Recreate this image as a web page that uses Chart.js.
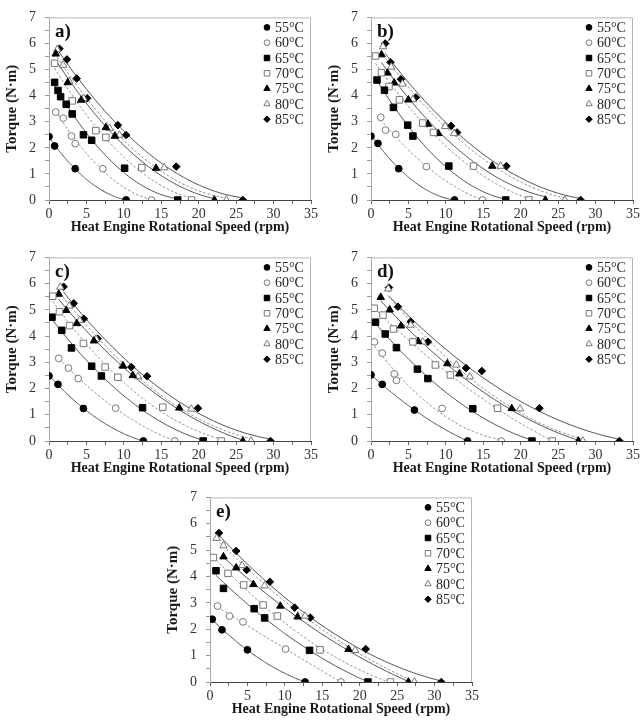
<!DOCTYPE html>
<html>
<head>
<meta charset="utf-8">
<script src="https://cdn.jsdelivr.net/npm/chart.js@4.4.1/dist/chart.umd.min.js"></script>
<style>
  body { margin: 0; background: #fff; width: 642px; height: 727px; position: relative; overflow: hidden; }
  canvas { position: absolute; }
</style>
</head>
<body>
<canvas id="pa" width="320" height="240" style="left:0;top:0"></canvas>
<canvas id="pb" width="320" height="240" style="left:322px;top:0"></canvas>
<canvas id="pc" width="320" height="240" style="left:0;top:240px"></canvas>
<canvas id="pd" width="320" height="240" style="left:322px;top:240px"></canvas>
<canvas id="pe" width="320" height="247" style="left:161px;top:480px"></canvas>
<script>
const temps = ['55°C', '60°C', '65°C', '70°C', '75°C', '80°C', '85°C'];
const xTicks = [0, 5, 10, 15, 20, 25, 30, 35];
const yTicks = [0, 1, 2, 3, 4, 5, 6, 7];

// speed (rpm) and torque (N·m) per temperature, one row per series
const speedA = [
  [0, 0.75, 3.5, 10.3],
  [0.9, 1.9, 3.0, 3.5, 7.2, 13.7],
  [0.75, 1.2, 1.55, 2.3, 3.1, 4.6, 5.7, 10.1, 17.2],
  [0.75, 3.1, 6.25, 7.6, 12.4, 19.05],
  [0.9, 2.5, 4.3, 7.6, 8.8, 14.3, 22.1],
  [1.1, 1.9, 2.7, 4.6, 8.1, 9.4, 15.4, 23.7],
  [1.4, 2.4, 3.7, 5.1, 9.2, 10.3, 17.0, 25.9]
];
const torqueA = [
  [2.43, 2.07, 1.2, 0],
  [3.37, 3.14, 2.45, 2.16, 1.2, 0],
  [4.51, 4.2, 3.96, 3.67, 3.3, 2.5, 2.29, 1.22, 0],
  [5.24, 3.8, 2.66, 2.4, 1.24, 0],
  [5.6, 4.5, 3.83, 2.78, 2.45, 1.22, 0],
  [5.77, 5.17, 4.55, 3.9, 2.75, 2.49, 1.24, 0],
  [5.8, 5.39, 4.66, 3.9, 2.87, 2.49, 1.28, 0]
];

const speedB = [
  [0, 0.93, 3.7, 11.15],
  [1.3, 1.95, 3.3, 7.4, 14.9],
  [0.8, 1.8, 3.0, 4.9, 5.6, 10.4, 18.0],
  [0.6, 1.4, 2.4, 3.8, 6.9, 8.35, 13.7, 21.1],
  [1.4, 2.2, 3.1, 5.0, 7.6, 9.0, 16.2, 23.3],
  [1.6, 2.7, 4.2, 5.6, 9.9, 11.1, 17.3, 25.9],
  [1.9, 2.6, 4.0, 6.0, 10.7, 11.5, 18.1, 28.0]
];
const torqueB = [
  [2.45, 2.17, 1.2, 0],
  [3.17, 2.68, 2.52, 1.28, 0],
  [4.6, 4.21, 3.55, 2.87, 2.45, 1.3, 0],
  [5.52, 4.88, 4.35, 3.84, 2.95, 2.59, 1.3, 0],
  [5.57, 4.87, 4.49, 3.84, 2.91, 2.55, 1.3, 0],
  [5.88, 5.1, 4.45, 3.85, 2.82, 2.55, 1.3, 0],
  [6.0, 5.28, 4.63, 3.93, 2.84, 2.59, 1.3, 0]
];

const speedC = [
  [0, 1.2, 4.6, 12.6],
  [1.3, 2.6, 3.9, 8.9, 16.8],
  [0.4, 1.7, 3.0, 5.7, 7.0, 12.5, 20.6],
  [0.5, 1.4, 2.75, 4.6, 7.5, 9.2, 15.2, 23.0],
  [1.3, 2.3, 3.7, 6.0, 9.9, 11.2, 17.4, 25.9],
  [1.5, 2.7, 4.1, 6.3, 9.8, 11.9, 19.0, 27.0],
  [1.95, 3.3, 4.65, 6.5, 11.0, 13.1, 19.9, 29.6]
];
const torqueC = [
  [2.48, 2.16, 1.24, 0],
  [3.15, 2.78, 2.38, 1.25, 0],
  [4.72, 4.22, 3.55, 2.85, 2.48, 1.27, 0],
  [5.52, 4.93, 4.4, 3.72, 2.82, 2.43, 1.29, 0],
  [5.6, 4.98, 4.48, 3.82, 2.86, 2.5, 1.26, 0],
  [5.87, 5.15, 4.6, 3.88, 2.88, 2.46, 1.22, 0],
  [5.88, 5.25, 4.66, 3.9, 2.82, 2.47, 1.25, 0]
];

const speedD = [
  [0, 1.5, 5.8, 12.9],
  [0.45, 1.5, 3.1, 3.4, 9.5, 17.4],
  [0.6, 1.9, 3.4, 6.2, 7.6, 13.6, 21.5],
  [0.45, 1.6, 3.0, 5.6, 8.6, 10.6, 16.9, 24.2],
  [1.3, 2.5, 4.0, 6.3, 10.2, 11.8, 18.8, 27.7],
  [2.3, 5.3, 6.9, 11.4, 13.2, 19.9, 28.3],
  [2.4, 3.6, 5.3, 7.6, 12.7, 14.8, 22.5, 33.2]
];
const torqueD = [
  [2.52, 2.16, 1.18, 0],
  [3.78, 3.35, 2.56, 2.31, 1.24, 0],
  [4.53, 4.08, 3.56, 2.74, 2.38, 1.23, 0],
  [5.06, 4.8, 4.27, 3.78, 2.9, 2.52, 1.25, 0],
  [5.48, 5.0, 4.39, 3.8, 2.95, 2.56, 1.24, 0],
  [5.8, 4.42, 3.78, 2.9, 2.45, 1.23, 0],
  [5.85, 5.12, 4.55, 3.78, 2.78, 2.67, 1.25, 0]
];

const speedE = [
  [0.3, 1.6, 5.0, 12.7],
  [1.0, 2.6, 4.4, 10.1, 17.5],
  [0.8, 1.8, 5.9, 7.3, 13.3, 21.1],
  [0.45, 2.4, 4.5, 7.1, 9.0, 14.7, 24.1],
  [1.8, 3.5, 5.8, 9.4, 11.7, 18.5, 26.5],
  [0.9, 1.8, 4.3, 7.3, 12.7, 19.4, 27.3],
  [1.2, 3.5, 4.9, 8.0, 11.3, 13.4, 20.8, 30.9]
];
const torqueE = [
  [2.38, 1.98, 1.22, 0],
  [2.88, 2.5, 2.28, 1.25, 0],
  [4.22, 3.55, 2.78, 2.43, 1.2, 0],
  [4.72, 4.12, 3.68, 2.92, 2.5, 1.22, 0],
  [4.75, 4.33, 3.7, 2.88, 2.47, 1.24, 0],
  [5.45, 5.17, 4.42, 3.65, 2.5, 1.2, 0],
  [5.65, 4.97, 4.25, 3.8, 2.82, 2.44, 1.25, 0]
];

// marker / line look per series
const shapes = ['circle', 'circle', 'rect', 'rect', 'triangle', 'triangle', 'rectRot'];
const filled = [true, false, true, false, true, false, true];
const radii = [3.4, 3.4, 4.6, 4.6, 4.3, 4.3, 3.8];
const SERIF = "'Liberation Serif', 'DejaVu Serif', serif";

// 2nd order polynomial trendline (least squares), like the spreadsheet fit
function quadFit(xs, ys) {
  let s = [0, 0, 0, 0, 0], t = [0, 0, 0];
  xs.forEach((x, i) => {
    let p = 1;
    for (let k = 0; k < 5; k++) { s[k] += p; if (k < 3) t[k] += p * ys[i]; p *= x; }
  });
  const M = [[s[0], s[1], s[2]], [s[1], s[2], s[3]], [s[2], s[3], s[4]]];
  const det = m => m[0][0] * (m[1][1] * m[2][2] - m[1][2] * m[2][1])
    - m[0][1] * (m[1][0] * m[2][2] - m[1][2] * m[2][0])
    + m[0][2] * (m[1][0] * m[2][1] - m[1][1] * m[2][0]);
  const D = det(M);
  return [0, 1, 2].map(c => det(M.map((row, r) => row.map((v, j) => j === c ? t[r] : v))) / D);
}

function trend(xs, ys) {
  const [a, b, c] = quadFit(xs, ys);
  const lo = Math.min(...xs), hi = Math.max(...xs);
  const pts = [];
  for (let i = 0; i <= 80; i++) {
    const x = lo + (hi - lo) * i / 80;
    pts.push({ x, y: a + b * x + c * x * x });
  }
  return pts;
}

const panelDecor = {
  id: 'panelDecor',
  beforeDatasetsDraw(chart) {
    const { ctx, chartArea: a } = chart;
    ctx.save();
    ctx.strokeStyle = '#b5b5b5';
    ctx.lineWidth = 1;
    ctx.beginPath();
    ctx.moveTo(a.left, a.top + 0.5);
    ctx.lineTo(a.right - 0.5, a.top + 0.5);
    ctx.lineTo(a.right - 0.5, a.bottom);
    ctx.stroke();
    ctx.restore();
  },
  afterDraw(chart) {
    const { ctx, chartArea: a } = chart;
    ctx.save();
    ctx.fillStyle = '#111';
    ctx.font = 'bold 19px ' + SERIF;
    ctx.textBaseline = 'alphabetic';
    ctx.fillText(chart.options.plugins.panelDecor.letter, a.left + 6, a.top + 20);
    // legend
    ctx.font = '14px ' + SERIF;
    ctx.textBaseline = 'middle';
    temps.forEach((t, i) => {
      const y = a.top + 10 + i * 15.3;
      const x = a.right - 44;
      ctx.fillStyle = filled[i] ? '#000' : '#fff';
      ctx.strokeStyle = filled[i] ? '#000' : '#777';
      ctx.lineWidth = 1;
      Chart.helpers.drawPoint(ctx, { pointStyle: shapes[i], radius: radii[i] * 0.85, rotation: 0, borderWidth: 1 }, x, y);
      ctx.fillStyle = '#222';
      ctx.fillText(t, x + 8, y + 1);
    });
    ctx.restore();
  }
};

function makePanel(id, letter, speeds, torques, xAxisH) {
  const datasets = [];
  speeds.forEach((xs, i) => {
    datasets.push({
      data: trend(xs, torques[i]),
      showLine: true,
      pointRadius: 0,
      borderColor: filled[i] ? '#505050' : '#8c8c8c',
      borderWidth: 1,
      borderDash: filled[i] ? [] : [2.5, 2],
      order: 2
    });
  });
  speeds.forEach((xs, i) => {
    datasets.push({
      data: xs.map((x, k) => ({ x, y: torques[i][k] })),
      showLine: false,
      pointStyle: shapes[i],
      pointRadius: radii[i],
      backgroundColor: filled[i] ? '#000' : '#fff',
      borderColor: filled[i] ? '#000' : '#777',
      borderWidth: 1,
      order: 1
    });
  });

  new Chart(document.getElementById(id), {
    type: 'scatter',
    data: { datasets },
    plugins: [panelDecor],
    options: {
      responsive: false,
      animation: false,
      events: [],
      layout: { padding: { left: 0, top: 17, right: 7, bottom: 0 } },
      plugins: {
        legend: { display: false },
        tooltip: { enabled: false },
        panelDecor: { letter }
      },
      scales: {
        x: {
          type: 'linear', min: 0, max: 35,
          afterFit: s => { s.height = xAxisH; },
          ticks: {
            stepSize: 2.5, autoSkip: false, maxRotation: 0, padding: 2,
            color: '#333', font: { family: SERIF, size: 14 },
            callback: v => xTicks.includes(v) ? v : ''
          },
          grid: { drawOnChartArea: false, tickLength: 4, color: '#666' },
          border: { color: '#444' },
          title: {
            display: true, text: 'Heat Engine Rotational Speed (rpm)', color: '#1a1a1a',
            font: { family: SERIF, size: 14, weight: 'bold' },
            padding: { top: 0, bottom: xAxisH - 36 }
          }
        },
        y: {
          type: 'linear', min: 0, max: 7,
          afterFit: s => { s.width = 49; },
          ticks: {
            stepSize: 0.5, autoSkip: false, padding: 9,
            color: '#333', font: { family: SERIF, size: 14 },
            callback: v => yTicks.includes(v) ? v : ''
          },
          grid: { drawOnChartArea: false, tickLength: 4, color: '#999' },
          border: { color: '#aaa' },
          title: {
            display: true, text: 'Torque (N·m)', color: '#1a1a1a',
            font: { family: SERIF, size: 15, weight: 'bold' },
            padding: { top: 3, bottom: 0 }
          }
        }
      }
    }
  });
}

makePanel('pa', 'a)', speedA, torqueA, 40);
makePanel('pb', 'b)', speedB, torqueB, 40);
makePanel('pc', 'c)', speedC, torqueC, 39);
makePanel('pd', 'd)', speedD, torqueD, 39);
makePanel('pe', 'e)', speedE, torqueE, 45);
</script>
</body>
</html>
